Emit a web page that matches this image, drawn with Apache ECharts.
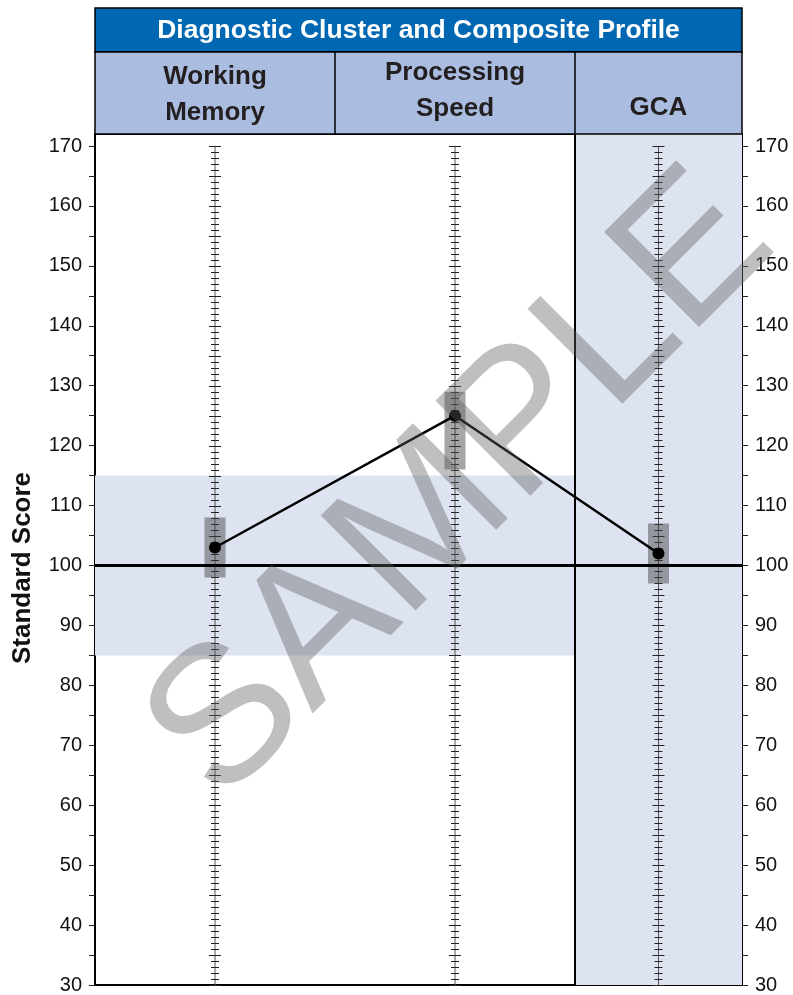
<!DOCTYPE html>
<html><head><meta charset="utf-8">
<script src="https://cdn.jsdelivr.net/npm/echarts@6/dist/echarts.min.js"></script>
<style>html,body{margin:0;padding:0;background:#fff}#chart{width:793px;height:995px}</style>
</head><body><div id="chart"></div>
<script>
// ---------- data ----------
const chartTitle = 'Diagnostic Cluster and Composite Profile';
const categories = ['Working\nMemory', 'Processing\nSpeed', 'GCA'];
const scores = [103, 125, 102];
const ciLow = [98, 116, 97];
const ciHigh = [108, 129, 107];
const normalBand = [85, 115];
const meanScore = 100;
const yTickValues = [30,35,40,45,50,55,60,65,70,75,80,85,90,95,100,105,110,115,120,125,130,135,140,145,150,155,160,165,170];
const yLabelValues = [30,40,50,60,70,80,90,100,110,120,130,140,150,160,170];
const yAxisName = 'Standard Score';
const watermarkText = 'SAMPLE';

// ---------- layout ----------
const FONT = '"Liberation Sans", Arial, Helvetica, sans-serif';
const colWidths = [240, 240, 167];
const gridLeft = 95, gridRight = 51, gridTop = 134, gridBottom = 8;
const totalW = colWidths.reduce((a, b) => a + b, 0);
const colStarts = colWidths.map((w, i) => colWidths.slice(0, i).reduce((a, b) => a + b, 0));
const colCenters = colWidths.map((w, i) => colStarts[i] + w / 2);
const yMin = 30, yMax = 172, rulerMin = 30, rulerMax = 170;
const compositeStart = colStarts[2];

const chart = echarts.init(document.getElementById('chart'), null, {renderer: 'canvas'});

const headerGraphics = [
  {type: 'rect', shape: {x: gridLeft, y: 8, width: totalW, height: 44}, style: {fill: '#0067b2', stroke: '#000', lineWidth: 1.5}, z: 10},
  {type: 'rect', shape: {x: gridLeft, y: 52, width: totalW, height: 82}, style: {fill: '#aabde1', stroke: '#000', lineWidth: 1.5}, z: 10},
  {type: 'text', x: gridLeft + totalW / 2, y: 31, style: {text: chartTitle, fill: '#fff', font: 'bold 26.5px ' + FONT, textAlign: 'center', textVerticalAlign: 'middle'}, z: 11}
];
colStarts.slice(1).forEach(s => {
  headerGraphics.push({type: 'line', shape: {x1: gridLeft + s, y1: 52, x2: gridLeft + s, y2: 134}, style: {stroke: '#000', lineWidth: 1.5}, z: 11});
});
const headerBottoms = [131, 127, 126];
categories.forEach((c, i) => {
  headerGraphics.push({type: 'text', x: gridLeft + colCenters[i], y: headerBottoms[i],
    style: {text: c, fill: '#231f20', font: 'bold 26px ' + FONT, textAlign: 'center', textVerticalAlign: 'bottom', lineHeight: 36}, z: 11});
});
headerGraphics.push({type: 'text', x: 23, y: 568, rotation: Math.PI / 2,
  style: {text: yAxisName, fill: '#111', font: 'bold 26px ' + FONT, textAlign: 'center', textVerticalAlign: 'middle'}, z: 11});
headerGraphics.push({type: 'text', x: 462, y: 488, rotation: 45 * Math.PI / 180,
  style: {text: watermarkText, fill: 'rgba(95,95,95,0.4)', font: '195px ' + FONT, textAlign: 'center', textVerticalAlign: 'middle'}, z: 50});

const option = {
  animation: false,
  backgroundColor: '#fff',
  grid: {left: gridLeft, right: gridRight, top: gridTop, bottom: gridBottom, show: true, borderColor: '#000', borderWidth: 2, backgroundColor: 'transparent'},
  xAxis: {type: 'value', min: 0, max: totalW, show: false},
  yAxis: [0, 1].map(i => ({
    type: 'value', min: yMin, max: yMax, position: i === 0 ? 'left' : 'right',
    axisLine: {show: true, lineStyle: {color: '#000', width: 2}},
    axisTick: {show: true, customValues: yTickValues, length: 6, lineStyle: {color: '#222', width: 1}},
    axisLabel: {show: true, customValues: yLabelValues, margin: 13, fontFamily: FONT, fontSize: 20, color: '#111'},
    splitLine: {show: false}
  })),
  graphic: {elements: headerGraphics},
  series: [
    {
      type: 'line', data: [], silent: true, z: 1,
      markArea: {silent: true, itemStyle: {color: '#dde3f1'}, data: [
        [{xAxis: 0, yAxis: normalBand[0]}, {xAxis: compositeStart, yAxis: normalBand[1]}],
        [{xAxis: compositeStart, yAxis: yMin}, {xAxis: totalW, yAxis: yMax}]
      ]}
    },
    {
      type: 'custom', z: 3, silent: true,
      data: colCenters.map(x => [x]),
      renderItem: (params, api) => {
        const x = api.value(0);
        const top = api.coord([x, rulerMax]);
        const bot = api.coord([x, rulerMin]);
        const children = [{type: 'line', shape: {x1: top[0], y1: top[1], x2: bot[0], y2: bot[1]}, style: {stroke: '#555', lineWidth: 1}}];
        for (let v = rulerMin; v <= rulerMax; v++) {
          const p = api.coord([x, v]);
          const h = v % 5 === 0 ? 6 : 4;
          children.push({type: 'line', shape: {x1: p[0] - h, y1: Math.round(p[1]) + 0.5, x2: p[0] + h, y2: Math.round(p[1]) + 0.5}, style: {stroke: '#222', lineWidth: 1}});
        }
        return {type: 'group', children};
      }
    },
    {
      type: 'custom', z: 4, silent: true,
      data: colCenters.map((x, i) => [x, ciLow[i], ciHigh[i]]),
      renderItem: (params, api) => {
        const lo = api.coord([api.value(0), api.value(1)]);
        const hi = api.coord([api.value(0), api.value(2)]);
        return {type: 'rect', shape: {x: lo[0] - 10.5, y: hi[1], width: 21, height: lo[1] - hi[1]}, style: {fill: 'rgba(70,70,70,0.48)'}};
      }
    },
    {
      type: 'line', z: 6, silent: true,
      data: colCenters.map((x, i) => [x, scores[i]]),
      symbol: 'circle', symbolSize: 12,
      lineStyle: {color: '#000', width: 2.5},
      itemStyle: {color: '#000'},
      markLine: {silent: true, symbol: 'none', label: {show: false}, data: [
        {yAxis: meanScore, lineStyle: {color: '#000', width: 3, type: 'solid'}},
        {xAxis: compositeStart, lineStyle: {color: '#000', width: 2, type: 'solid'}}
      ]}
    }
  ]
};
chart.setOption(option);
</script></body></html>
